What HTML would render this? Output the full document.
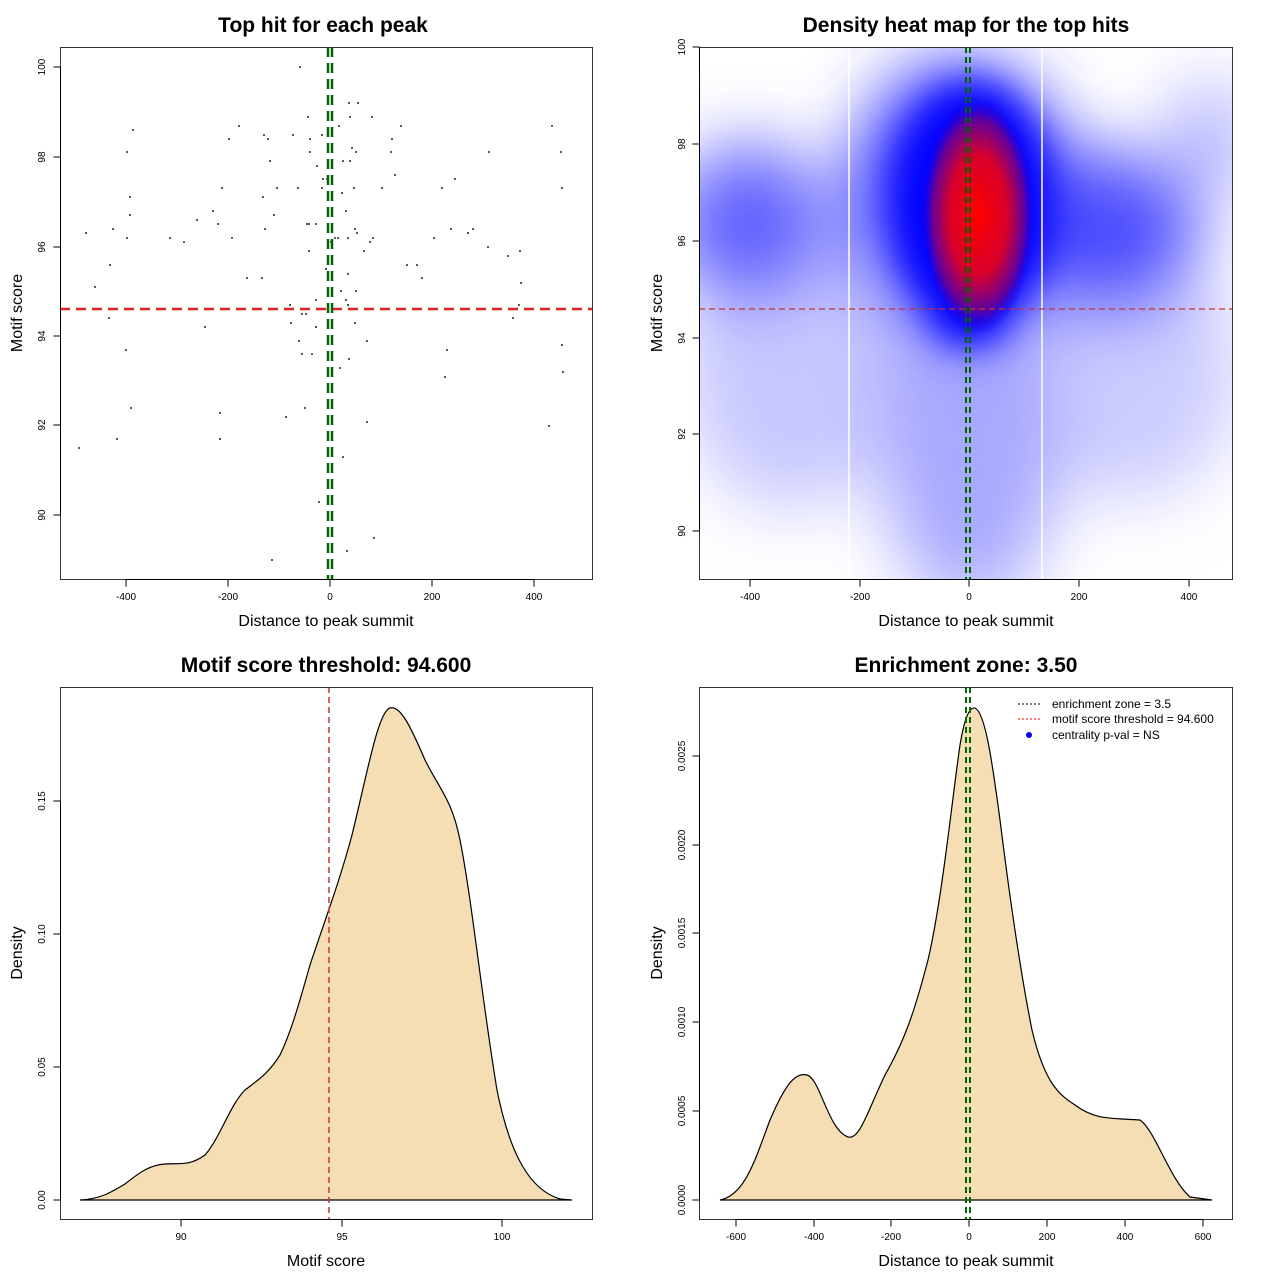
<!DOCTYPE html>
<html><head><meta charset="utf-8"><style>body{margin:0;background:#fff}svg{display:block;font-family:"Liberation Sans",sans-serif}</style></head><body>
<svg id="s" width="1280" height="1280" viewBox="0 0 1280 1280" xmlns="http://www.w3.org/2000/svg">
<defs>
<filter id="b1" x="-50%" y="-50%" width="200%" height="200%"><feGaussianBlur stdDeviation="35"/></filter>
<filter id="b2" x="-50%" y="-50%" width="200%" height="200%"><feGaussianBlur stdDeviation="18"/></filter>
<clipPath id="c2"><rect x="699" y="47" width="533" height="532"/></clipPath>
<radialGradient id="rg" cx="0.5" cy="0.5" r="0.5"><stop offset="0" stop-color="#ff0000"/><stop offset="0.5" stop-color="#d8002a"/><stop offset="0.8" stop-color="#6000a0"/><stop offset="1" stop-color="#0000ff" stop-opacity="0"/></radialGradient>
</defs>
<g font-weight="bold" font-size="21" text-anchor="middle">
<text x="323" y="32">Top hit for each peak</text>
<text x="966" y="32">Density heat map for the top hits</text>
<text x="326" y="672">Motif score threshold: 94.600</text>
<text x="966" y="672">Enrichment zone: 3.50</text>
</g>
<g font-size="16" text-anchor="middle">
<text x="326" y="626">Distance to peak summit</text>
<text x="966" y="626">Distance to peak summit</text>
<text x="326" y="1266">Motif score</text>
<text x="966" y="1266">Distance to peak summit</text>
<text transform="translate(22,313) rotate(-90)">Motif score</text>
<text transform="translate(662,313) rotate(-90)">Motif score</text>
<text transform="translate(22,953) rotate(-90)">Density</text>
<text transform="translate(662,953) rotate(-90)">Density</text>
</g>
<g clip-path="url(#c2)">
<rect x="699" y="47" width="533" height="532" fill="#fff"/>
<g filter="url(#b1)">
<ellipse cx="790" cy="360" rx="110" ry="150" fill="#c8c8ff"/>
<ellipse cx="1130" cy="370" rx="110" ry="130" fill="#ccccff"/>
<ellipse cx="970" cy="440" rx="90" ry="170" fill="#a8a8ff"/>
<ellipse cx="750" cy="225" rx="80" ry="80" fill="#6060ff"/>
<ellipse cx="1110" cy="235" rx="90" ry="85" fill="#5050ff"/>
<ellipse cx="1210" cy="140" rx="40" ry="60" fill="#b0b0ff"/>
<ellipse cx="960" cy="200" rx="110" ry="140" fill="#3838ff"/>
</g>
<g filter="url(#b2)">
<ellipse cx="972" cy="205" rx="78" ry="120" fill="#0000ff"/>
<ellipse cx="970" cy="305" rx="42" ry="40" fill="#0000ff"/>
</g>
<ellipse cx="978" cy="215" rx="58" ry="120" fill="url(#rg)"/>
<line x1="849" y1="47" x2="849" y2="579" stroke="#fff" stroke-width="1.5"/>
<line x1="1042" y1="47" x2="1042" y2="579" stroke="#fff" stroke-width="1.5"/>
<line x1="699" y1="309" x2="1232" y2="309" stroke="#c83232" stroke-width="1.2" stroke-dasharray="6,4"/>
<line x1="966" y1="47" x2="966" y2="579" stroke="#006400" stroke-width="2" stroke-dasharray="6,4"/>
<line x1="970" y1="47" x2="970" y2="579" stroke="#006400" stroke-width="2" stroke-dasharray="6,4"/>
</g>
<g id="pts" fill="#000"></g>
<line x1="60" y1="309" x2="592" y2="309" stroke="#dd2222" stroke-width="2.5" stroke-dasharray="10,6"/>
<line x1="328" y1="47" x2="328" y2="579" stroke="#006400" stroke-width="2.5" stroke-dasharray="10,6"/>
<line x1="332" y1="47" x2="332" y2="579" stroke="#006400" stroke-width="2.5" stroke-dasharray="10,6"/>
<path d="M80,1200 C100,1199 110,1193 125,1184 C140,1172 150,1165 165,1164 C180,1163 190,1166 205,1155 C220,1138 230,1105 245,1090 C258,1080 268,1074 280,1055 C292,1030 300,1000 310,965 C325,920 340,880 352,835 C368,770 378,712 390,708 C400,705 410,725 425,760 C440,790 452,800 460,840 C472,900 482,1000 497,1090 C510,1155 530,1190 560,1199 L572,1200 Z" fill="#f5deb3" stroke="#000" stroke-width="1.2"/>
<line x1="329" y1="687" x2="329" y2="1219" stroke="#c83232" stroke-width="1.5" stroke-dasharray="6,4"/>
<path d="M720,1200 C745,1195 755,1160 770,1120 C785,1085 795,1072 807,1075 C820,1078 828,1130 848,1137 C860,1140 868,1110 885,1075 C905,1040 915,1010 928,960 C942,900 952,800 960,745 C965,715 970,707 975,708 C985,712 992,760 1000,820 C1010,900 1020,970 1032,1030 C1045,1085 1060,1095 1075,1105 C1095,1120 1110,1118 1140,1120 C1155,1130 1170,1180 1190,1197 L1212,1200 Z" fill="#f5deb3" stroke="#000" stroke-width="1.2"/>
<line x1="966" y1="687" x2="966" y2="1219" stroke="#006400" stroke-width="2" stroke-dasharray="6,4"/>
<line x1="970" y1="687" x2="970" y2="1219" stroke="#006400" stroke-width="2" stroke-dasharray="6,4"/>
<line x1="1018" y1="704" x2="1042" y2="704" stroke="#000" stroke-dasharray="2,2"/>
<line x1="1018" y1="719" x2="1042" y2="719" stroke="#f00" stroke-dasharray="2,2"/>
<circle cx="1029" cy="735" r="3" fill="#00f"/>
<g font-size="12"><text x="1052" y="708">enrichment zone = 3.5</text><text x="1052" y="723">motif score threshold = 94.600</text><text x="1052" y="739">centrality p-val = NS</text></g>
<g fill="none" stroke="#333" stroke-width="1">
<rect x="60.5" y="47.5" width="532" height="532"/><rect x="699.5" y="47.5" width="533" height="532"/>
<rect x="60.5" y="687.5" width="532" height="532"/><rect x="699.5" y="687.5" width="533" height="532"/>
</g>
<g id="ax" stroke="#000" fill="none"></g>
<g font-size="10" text-anchor="middle">
<text x="126" y="600">-400</text><text x="228" y="600">-200</text><text x="330" y="600">0</text><text x="432" y="600">200</text><text x="534" y="600">400</text>
<text x="750" y="600">-400</text><text x="860" y="600">-200</text><text x="969" y="600">0</text><text x="1079" y="600">200</text><text x="1189" y="600">400</text>
<text x="181" y="1240">90</text><text x="342" y="1240">95</text><text x="502" y="1240">100</text>
<text x="736" y="1240">-600</text><text x="814" y="1240">-400</text><text x="891" y="1240">-200</text><text x="969" y="1240">0</text><text x="1047" y="1240">200</text><text x="1125" y="1240">400</text><text x="1203" y="1240">600</text>
<text transform="translate(45,515) rotate(-90)">90</text><text transform="translate(45,425) rotate(-90)">92</text><text transform="translate(45,336) rotate(-90)">94</text><text transform="translate(45,247) rotate(-90)">96</text><text transform="translate(45,157) rotate(-90)">98</text><text transform="translate(45,67) rotate(-90)">100</text>
<text transform="translate(685,531) rotate(-90)">90</text><text transform="translate(685,434) rotate(-90)">92</text><text transform="translate(685,338) rotate(-90)">94</text><text transform="translate(685,241) rotate(-90)">96</text><text transform="translate(685,144) rotate(-90)">98</text><text transform="translate(685,47) rotate(-90)">100</text>
<text transform="translate(45,1200) rotate(-90)">0.00</text><text transform="translate(45,1067) rotate(-90)">0.05</text><text transform="translate(45,934) rotate(-90)">0.10</text><text transform="translate(45,801) rotate(-90)">0.15</text>
<text transform="translate(685,1200) rotate(-90)">0.0000</text><text transform="translate(685,1111) rotate(-90)">0.0005</text><text transform="translate(685,1022) rotate(-90)">0.0010</text><text transform="translate(685,933) rotate(-90)">0.0015</text><text transform="translate(685,845) rotate(-90)">0.0020</text><text transform="translate(685,756) rotate(-90)">0.0025</text>
</g>
</svg>
<script>
var P=[[300,67],[308,117],[133,130],[239,126],[229,139],[264,135],[268,139],[293,135],[310,139],[322,135],[127,152],[310,152],[270,161],[317,166],[323,179],[327,179],[130,197],[222,188],[277,188],[298,188],[322,188],[263,197],[130,215],[213,211],[197,220],[218,224],[274,215],[307,224],[309,224],[316,224],[86,233],[113,229],[127,238],[170,238],[184,242],[232,238],[265,229],[309,251],[110,265],[326,269],[95,287],[247,278],[262,278],[290,305],[316,300],[306,314],
[349,103],[358,103],[350,117],[372,117],[339,126],[401,126],[552,126],[392,139],[352,148],[356,152],[391,152],[489,152],[561,152],[343,161],[350,161],[395,175],[455,179],[354,188],[382,188],[442,188],[562,188],[342,193],[346,211],[355,229],[357,233],[451,229],[473,229],[468,233],[335,238],[338,238],[348,238],[373,238],[434,238],[370,242],[331,242],[488,247],[364,251],[508,256],[520,251],[407,265],[417,265],[348,274],[422,278],[521,283],[341,291],[356,291],[346,300],[348,305],[519,305],
[109,318],[205,327],[302,314],[291,323],[316,327],[355,323],[513,318],[299,341],[367,341],[126,350],[302,354],[312,354],[349,359],[340,368],[447,350],[562,345],[563,372],[445,377],[131,408],[220,413],[305,408],[286,417],[367,422],[549,426],[117,439],[220,439],[79,448],[343,457],[319,502],[374,538],[347,551],[272,560]];
var ns="http://www.w3.org/2000/svg",g=document.getElementById("pts");
P.forEach(function(p){var r=document.createElementNS(ns,"rect");r.setAttribute("x",p[0]-0.8);r.setAttribute("y",p[1]-0.8);r.setAttribute("width",1.6);r.setAttribute("height",1.6);g.appendChild(r);});
var a=document.getElementById("ax");
function L(x1,y1,x2,y2){var l=document.createElementNS(ns,"line");l.setAttribute("x1",x1);l.setAttribute("y1",y1);l.setAttribute("x2",x2);l.setAttribute("y2",y2);a.appendChild(l);}
function X(t,y){L(t[0],y,t[t.length-1],y);t.forEach(function(v){L(v,y,v,y+7)});}
function Y(t,x){L(x,t[0],x,t[t.length-1]);t.forEach(function(v){L(x,v,x-7,v)});}
X([126,228,330,432,534],579.5);X([750,860,969,1079,1189],579.5);X([181,342,502],1219.5);X([736,814,891,969,1047,1125,1203],1219.5);
Y([515,425,336,247,157,67],60.5);Y([531,434,338,241,144,47],699.5);Y([1200,1067,934,801],60.5);Y([1200,1111,1022,933,845,756],699.5);
</script>
</body></html>
